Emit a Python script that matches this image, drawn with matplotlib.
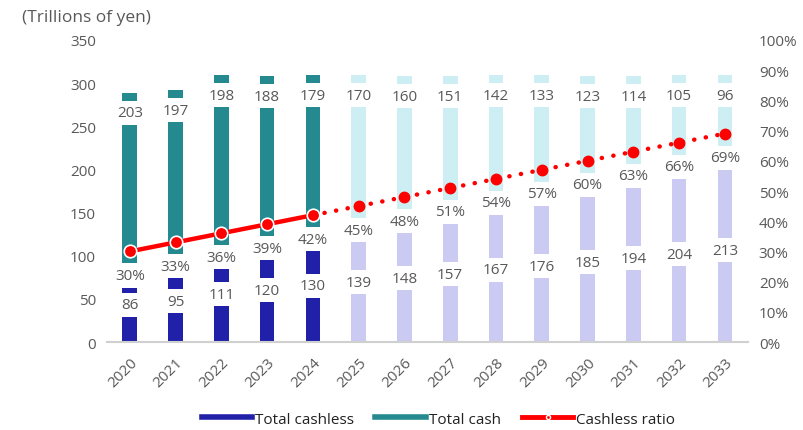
import matplotlib
matplotlib.use("Agg")
import matplotlib.pyplot as plt
from matplotlib.lines import Line2D
import numpy as np

years = ["2020", "2021", "2022", "2023", "2024", "2025", "2026", "2027",
         "2028", "2029", "2030", "2031", "2032", "2033"]
cashless = [86, 95, 111, 120, 130, 139, 148, 157, 167, 176, 185, 194, 204, 213]
cash = [203, 197, 198, 188, 179, 170, 160, 151, 142, 133, 123, 114, 105, 96]
ratio = [30, 33, 36, 39, 42, 45, 48, 51, 54, 57, 60, 63, 66, 69]
n_actual = 5  # 2020-2024 actual, rest forecast

plt.rcParams['font.family'] = ['Open Sans', 'DejaVu Sans']
grey = '#595959'
fs = 11

fig = plt.figure(figsize=(8.04, 4.31), dpi=100)
ax = fig.add_axes([0.133, 0.204, 0.797, 0.701])
ax2 = ax.twinx()

x = np.arange(len(years))
w = 0.32
c_dark = '#2020A8'
c_teal = '#248A90'
c_light_blue = '#CACAF2'
c_light_teal = '#CDEEF2'
col_cl = [c_dark if i < n_actual else c_light_blue for i in x]
col_ca = [c_teal if i < n_actual else c_light_teal for i in x]

ax.bar(x, cashless, width=w, color=col_cl, zorder=1)
ax.bar(x, cash, width=w, bottom=cashless, color=col_ca, zorder=1)

box = dict(boxstyle='square,pad=0.3', fc='white', ec='none')
for i in x:
    ax.text(i, cashless[i] / 2, str(cashless[i]), ha='center', va='center',
            fontsize=fs, color=grey, bbox=box, zorder=3)
    ax.annotate(str(cash[i]), (i, cashless[i] + cash[i]), xytext=(0, -20),
                textcoords='offset pixels', ha='center', va='center',
                fontsize=fs, color=grey, bbox=box, zorder=3)

ax.set_xlim(-0.5, len(years) - 0.5)
ax.set_ylim(0, 350)
ax.set_yticks(range(0, 351, 50))
ax.set_xticks(x)
ax.set_xticklabels(years, rotation=45, ha='right', rotation_mode='anchor')
for s in ['top', 'left', 'right']:
    ax.spines[s].set_visible(False)
ax.spines['bottom'].set_color('#D0D0D0')
ax.spines['bottom'].set_linewidth(1.5)
ax.tick_params(axis='both', length=0, colors=grey, labelsize=fs)
ax.tick_params(axis='x', pad=9)
ax.tick_params(axis='y', pad=8)

r = np.array(ratio) / 100
ax2.set_ylim(0, 1)
ax2.set_yticks(np.arange(0, 1.01, 0.1))
ax2.set_yticklabels([f"{int(v)}%" for v in range(0, 101, 10)])
for s in ['top', 'left', 'right', 'bottom']:
    ax2.spines[s].set_visible(False)
ax2.tick_params(axis='y', length=0, colors=grey, labelsize=fs, pad=8)

ax2.plot(x[n_actual - 1:], r[n_actual - 1:], color='#FF0000', lw=3.2,
         linestyle=(0, (0.05, 2.6)), dash_capstyle='round', zorder=4)
ax2.plot(x[n_actual:], r[n_actual:], 'o', color='#FF0000', ms=7.5,
         mec='#FF0000', zorder=5)
ax2.plot(x[:n_actual], r[:n_actual], '-o', color='#FF0000', lw=3.2, ms=9,
         mec='white', mew=1.2, zorder=5)
for i in x:
    ax2.annotate(f"{ratio[i]}%", (i, r[i]), xytext=(0, -24),
                 textcoords='offset pixels', ha='center', va='center',
                 fontsize=fs, color=grey, bbox=box, zorder=3)

fig.text(0.027, 0.958, "(Trillions of yen)", fontsize=12.5, color=grey,
         ha='left', va='center')

handles = [Line2D([], [], color=c_dark, lw=4),
           Line2D([], [], color=c_teal, lw=4),
           Line2D([], [], color='#FF0000', lw=3.5, marker='o', ms=3,
                  mfc='#FF0000', mec='white')]
fig.legend(handles, ["Total cashless", "Total cash", "Cashless ratio"],
           loc='center', bbox_to_anchor=(0.545, 0.025), ncol=3, frameon=False,
           fontsize=fs, handlelength=3.3, handletextpad=0.2,
           columnspacing=1.4, labelcolor='#222222')

fig.savefig("out.png", dpi=100)
